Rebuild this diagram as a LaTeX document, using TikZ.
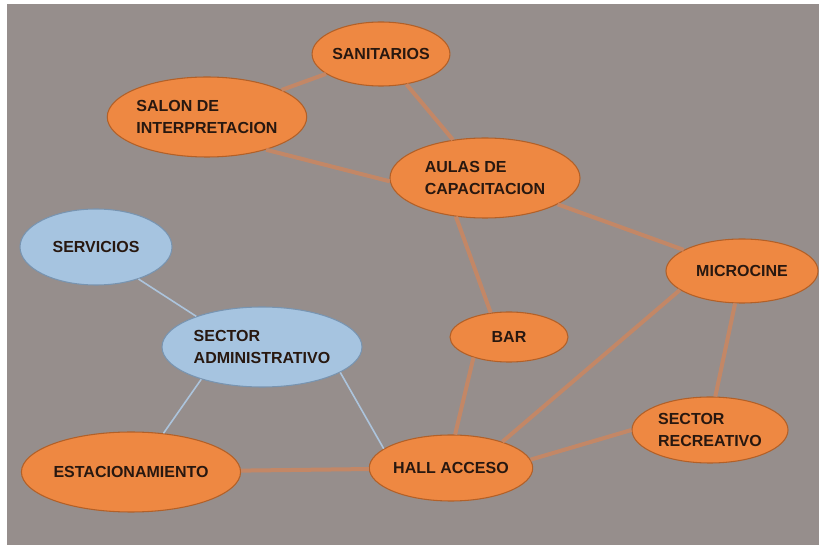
\documentclass[tikz,border=0pt]{standalone}
\usepackage{fontspec}
\newfontfamily\labfont{Liberation Sans}
\usetikzlibrary{shapes.geometric}
\definecolor{bggray}{RGB}{150,142,140}
\definecolor{orfill}{RGB}{238,136,66}
\definecolor{ordraw}{RGB}{178,96,40}
\definecolor{blfill}{RGB}{166,196,224}
\definecolor{bldraw}{RGB}{120,148,176}
\definecolor{orline}{RGB}{204,134,96}
\definecolor{blline}{RGB}{172,196,220}
\definecolor{txt}{RGB}{40,24,16}
\tikzset{
  onode/.style={ellipse, draw=ordraw, fill=orfill, line width=0.8pt, inner sep=0pt,
    text=txt, font=\labfont\bfseries\fontsize{12}{17}\selectfont, align=left},
  bnode/.style={ellipse, draw=bldraw, fill=blfill, line width=0.8pt, inner sep=0pt,
    text=txt, font=\labfont\bfseries\fontsize{12}{17}\selectfont, align=left},
  oline/.style={draw=orline, line width=3pt, opacity=0.85},
  bline/.style={draw=blline, line width=1.2pt}
}
\begin{document}
\begin{tikzpicture}[x=0.75pt,y=-0.75pt]
\useasboundingbox (0,0) rectangle (819,545);
\fill[white] (0,0) rectangle (819,545);
\fill[bggray] (7,4) rectangle (825,551);
% nodes
\node[onode, minimum width=96pt, minimum height=48pt] (san) at (381,54) {SANITARIOS};
\node[onode, minimum width=142.5pt, minimum height=60pt] (salon) at (207,117) {SALON DE\\INTERPRETACION};
\node[onode, minimum width=142.5pt, minimum height=60pt] (aulas) at (485,178) {AULAS DE\\CAPACITACION};
\node[bnode, minimum width=114pt, minimum height=57pt] (serv) at (96,247) {SERVICIOS};
\node[bnode, minimum width=150pt, minimum height=60pt] (admin) at (262,347) {SECTOR\\ADMINISTRATIVO};
\node[onode, minimum width=114pt, minimum height=48pt] (micro) at (742,271) {MICROCINE};
\node[onode, minimum width=117pt, minimum height=49.5pt] (recr) at (710,430) {SECTOR\\RECREATIVO};
\node[onode, minimum width=88.5pt, minimum height=37.5pt] (bar) at (509,337) {BAR};
\node[onode, minimum width=159pt, minimum height=60pt] (est) at (131,472) {ESTACIONAMIENTO};
\node[onode, minimum width=114pt, minimum height=49.5pt] (hall) at (451,468) {HALL ACCESO};
% connectors
\path[oline] (san) -- (salon);
\path[oline] (san) -- (aulas);
\path[oline] (salon.-29) -- (aulas.182);
\path[oline] (aulas) -- (micro);
\path[oline] (aulas.233) -- (bar.127);
\path[oline] (bar.210) -- (hall.83);
\path[oline] (micro.197) -- (hall.27);
\path[oline] (micro.258) -- (recr.81);
\path[oline] (recr.180) -- (hall.6);
\path[oline] (est) -- (hall);
\path[bline] (serv.-37) -- (admin.155);
\path[bline] (admin.208) -- (est.50);
\path[bline] (admin.-18) -- (hall.164);
\end{tikzpicture}
\end{document}
